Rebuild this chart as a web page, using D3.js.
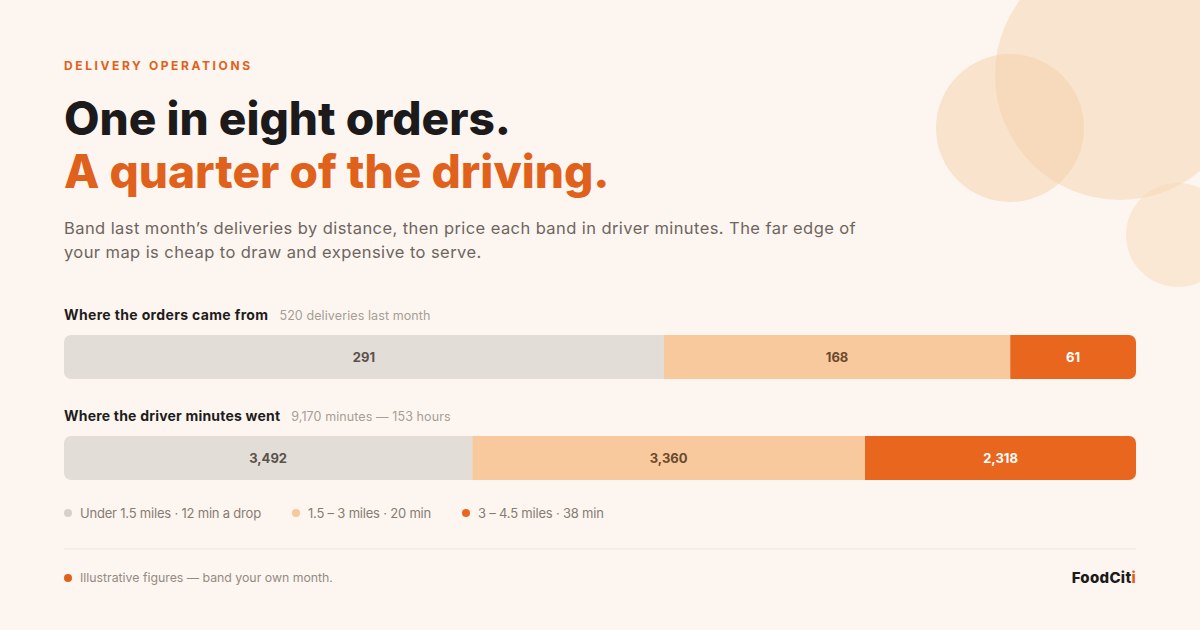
<!DOCTYPE html>
<html><head><meta charset="utf-8">
<script src="https://cdn.jsdelivr.net/npm/d3@7/dist/d3.min.js"></script>
<style>
html,body{margin:0;padding:0;background:#fdf6f0;}
svg{display:block;font-family:Inter,"Open Sans",sans-serif;}
</style></head><body>
<svg id="c" width="1200" height="630"></svg>
<script>
const bands = ["Under 1.5 miles · 12 min a drop", "1.5 – 3 miles · 20 min", "3 – 4.5 miles · 38 min"];
const orders = [291, 168, 61];
const minutes = [3492, 3360, 2318];
const colors = ["#e2ddd7", "#f7c99c", "#e8661d"];
const labelColors = ["#5b514b", "#6b4a2e", "#ffffff"];
const rows = [
  {title: "Where the orders came from", sub: "520 deliveries last month", values: orders},
  {title: "Where the driver minutes went", sub: "9,170 minutes — 153 hours", values: minutes}
];

const svg = d3.select("#c");
svg.append("rect").attr("width",1200).attr("height",630).attr("fill","#fdf6f0");

// decorative circles
const deco = svg.append("g");
deco.append("circle").attr("cx",1120).attr("cy",75).attr("r",125).attr("fill","#f6d6b4").attr("opacity",0.55);
deco.append("circle").attr("cx",1010).attr("cy",128).attr("r",74).attr("fill","#f6cfa8").attr("opacity",0.5);
deco.append("circle").attr("cx",1178).attr("cy",235).attr("r",52).attr("fill","#f6d6b4").attr("opacity",0.45);

const L = 64, R = 1136;
svg.append("text").attr("x",L).attr("y",70).text("DELIVERY OPERATIONS")
  .attr("font-size",12).attr("font-weight",700).attr("letter-spacing",2.6).attr("fill","#e0611b");
svg.append("text").attr("x",L).attr("y",135).text("One in eight orders.")
  .attr("font-size",46).attr("font-weight",800).attr("letter-spacing",0).attr("fill","#1c1a1a");
svg.append("text").attr("x",L).attr("y",188).text("A quarter of the driving.")
  .attr("font-size",46).attr("font-weight",800).attr("letter-spacing",0).attr("fill","#e0611b");
const sub = ["Band last month’s deliveries by distance, then price each band in driver minutes. The far edge of",
             "your map is cheap to draw and expensive to serve."];
sub.forEach((s,i)=>svg.append("text").attr("x",L).attr("y",234+i*24).text(s)
  .attr("font-size",16.5).attr("letter-spacing",0.42).attr("fill","#6e6560"));

const x = d3.scaleLinear().range([L, R]);
const rowY = [335, 436];
const bh = 44, rad = 7;

rows.forEach((row, ri) => {
  const y0 = rowY[ri];
  const t = svg.append("text").attr("x",L).attr("y",y0-15).attr("font-size",14);
  t.append("tspan").text(row.title).attr("font-weight",700).attr("fill","#1f1d1c").attr("letter-spacing",ri===0?0.35:0.2);
  t.append("tspan").text(row.sub).attr("dx",11).attr("font-size",12.5).attr("letter-spacing",0.1).attr("fill","#a59d96");
  const total = d3.sum(row.values);
  x.domain([0,total]);
  let acc = 0;
  const segs = row.values.map((v,i)=>{const s={v,i,a:acc,b:acc+v}; acc+=v; return s;});
  const clipId = "clip"+ri;
  svg.append("clipPath").attr("id",clipId).append("rect")
    .attr("x",L).attr("y",y0).attr("width",R-L).attr("height",bh).attr("rx",rad);
  const g = svg.append("g").attr("clip-path",`url(#${clipId})`);
  g.selectAll("rect").data(segs).join("rect")
    .attr("x",d=>x(d.a)).attr("y",y0).attr("width",d=>x(d.b)-x(d.a)).attr("height",bh)
    .attr("fill",d=>colors[d.i]);
  svg.append("g").selectAll("text").data(segs).join("text")
    .attr("x",d=>(x(d.a)+x(d.b))/2).attr("y",y0+bh/2+4.5).attr("text-anchor","middle")
    .attr("font-size",13).attr("font-weight",700).attr("fill",d=>labelColors[d.i])
    .text(d=>d3.format(",")(d.v));
});

// legend
const lg = svg.append("g");
const legX = [L, 292, 462];
bands.forEach((b,i)=>{
  lg.append("circle").attr("cx",legX[i]+4).attr("cy",513).attr("r",4).attr("fill",colors[i] === "#e2ddd7" ? "#d6d0ca" : colors[i]);
  lg.append("text").attr("x",legX[i]+16).attr("y",517.5).text(b).attr("font-size",13).attr("letter-spacing",-0.2).attr("fill","#877c74");
});

svg.append("line").attr("x1",L).attr("x2",R).attr("y1",549).attr("y2",549).attr("stroke","#efe6dd").attr("stroke-width",1);
svg.append("circle").attr("cx",L+4).attr("cy",578).attr("r",4).attr("fill","#e0611b");
svg.append("text").attr("x",L+16).attr("y",582).text("Illustrative figures — band your own month.")
  .attr("font-size",12.3).attr("fill","#948a82");
const brand = svg.append("text").attr("x",R).attr("y",583).attr("text-anchor","end")
  .attr("font-size",15).attr("font-weight",800).attr("letter-spacing",0.3).attr("fill","#1c1a1a");
brand.append("tspan").text("FoodCit");
brand.append("tspan").text("i").attr("fill","#e0611b");
</script>
</body></html>
